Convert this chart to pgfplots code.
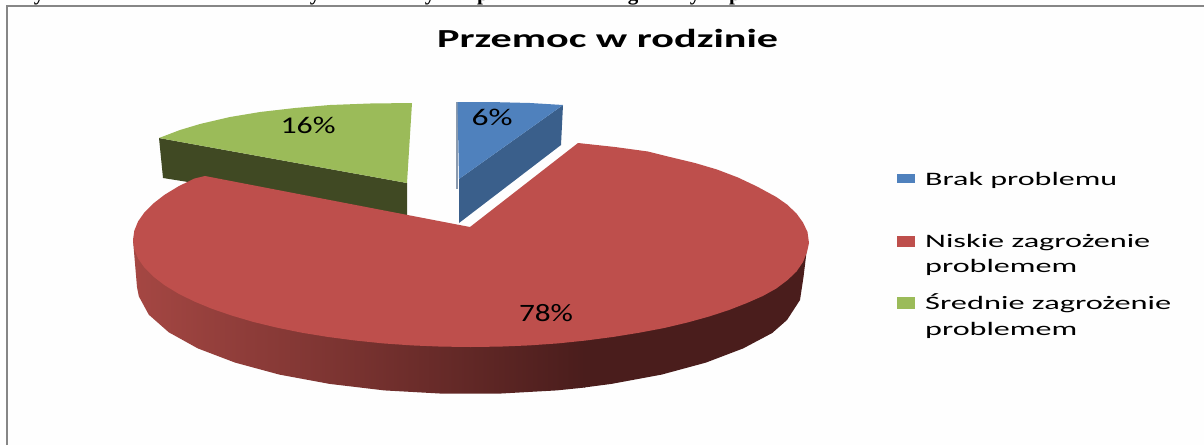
\documentclass[border=0pt]{standalone}
\usepackage{fontspec}
\setmainfont{Carlito}
\newfontfamily\serifbold{Liberation Serif}[BoldFont={Liberation Serif Bold}]
\usepackage{graphicx}
\usepackage{pgfplots}
\pgfplotsset{compat=1.18}
\definecolor{blueTop}{HTML}{4F81BD}
\definecolor{blueSide}{HTML}{3A5F8B}
\definecolor{blueEdge}{HTML}{8A9AAE}
\definecolor{redTop}{HTML}{BE4F4C}
\definecolor{redSideL}{HTML}{A54743}
\definecolor{redSideM}{HTML}{8A3836}
\definecolor{redSideR}{HTML}{4A1D1C}
\definecolor{greenTop}{HTML}{9BBB59}
\definecolor{greenSide}{HTML}{404923}
\definecolor{frame}{HTML}{868686}
\definecolor{paper}{HTML}{FEFEFE}
\newcommand{\lab}[2]{\resizebox{#1pt}{\height}{#2}}
\begin{document}
\begin{tikzpicture}
\begin{axis}[
    scale only axis,
    width=1204pt,
    height=445pt,
    xmin=0, xmax=1204,
    ymin=0, ymax=445,
    y dir=reverse,
    axis lines=none,
    clip=true,
]
% background, keeps the page full size
\addplot[draw=none, fill=paper] coordinates {(0,0) (1204,0) (1204,445) (0,445)};
% frame
\addplot[frame, line width=2pt] coordinates {(7,445) (7,6) (1204,6)};

% green slice
\addplot[draw=none, fill=greenSide] coordinates {(159,138) (163,178) (407,217) (407,183)};
\addplot[draw=none, fill=greenTop] coordinates {(159,138) (180,130) (200,124) (230,117) (260,112) (295,108) (330,105) (370,103.5) (412,103) (407,183)};

% blue slice
\addplot[blueEdge, line width=1.2pt] coordinates {(457,102) (457,189)};
\addplot[draw=none, fill=blueSide] coordinates {(563,105) (561,145) (459,223) (459,179)};
\addplot[draw=none, fill=blueTop] coordinates {(457.5,102) (490,102) (530,103) (563,105) (459,179)};

% red slice, side wall
\addplot[draw=none, left color=redSideL, middle color=redSideM, right color=redSideR] coordinates {
    (133,240) (137,287) (138.8,296.3) (148.8,314.7) (168.8,332.3) (197.8,348.4)
    (235.1,362.6) (279.4,374.6) (329.6,383.9) (384.3,390.4) (441.5,393.6) (499.5,393.6)
    (556.7,390.4) (585,387.5) (585,240)};
\addplot[draw=none, fill=redSideR] coordinates {
    (584,240) (584,387.5) (611.4,383.9) (661.6,374.6) (705.9,362.6) (743.2,348.4)
    (772.2,333) (787,320) (800,300) (803.5,277) (808,240)};

% red slice, top face
\addplot[draw=none, fill=redTop] coordinates {
    (470,227) (205,176) (194.1,178.6) (178.2,186.5) (164.7,194.7) (153.4,203.4) (144.5,212.3)
    (138.1,221.4) (134.3,230.7) (133,240) (134.3,249.3) (138.1,258.6) (144.5,267.7)
    (153.4,276.6) (164.7,285.3) (178.2,293.5) (194.1,301.4) (212,308.8) (231.9,315.6)
    (253.6,322) (276.8,327.6) (301.8,332.7) (327.7,336.9) (355.1,340.5) (383.1,343.4)
    (411.8,345.4) (441.1,346.6) (470.5,347) (499.9,346.6) (529.2,345.4) (557.9,343.4)
    (585.9,340.5) (613.3,336.9) (639.3,332.7) (664.2,328) (687.4,322.5) (709.1,316.5)
    (729,310) (746.9,303) (762.8,296) (776.3,288.5) (787.6,280) (796.5,271.5)
    (803,262) (807,252) (809,243) (807.5,232) (803,222.5) (796.5,213.5)
    (787,204.5) (776.3,197) (757,186.5) (738,177.5) (717,169.5) (695,163)
    (670,157) (648,151.5) (615,147) (578,143)};

% legend keys
\addplot[draw=none, fill=blueTop] coordinates {(897,174) (915,174) (915,183) (897,183)};
\addplot[draw=none, fill=redTop] coordinates {(897,236) (915,236) (915,247) (897,247)};
\addplot[draw=none, fill=greenTop] coordinates {(897,297) (915,297) (915,309) (897,309)};

% clipped line of text above the frame
\foreach \g/\px in {y/39, y/315, y/430, p/483, g/633, y/695, p/735} {
    \edef\temp{\noexpand\node[anchor=base, inner sep=0pt, font=\noexpand\fontsize{21}{21}\noexpand\serifbold\noexpand\bfseries]
        at (axis cs:\px,0.5) {\g};}
    \temp
}

% title
\node[anchor=base west, inner sep=0pt, font=\fontsize{26}{26}\selectfont\bfseries]
    at (axis cs:437,47) {\lab{341}{Przemoc w rodzinie}};

% data labels
\node[anchor=center, inner sep=0pt, font=\fontsize{24}{24}\selectfont] at (axis cs:492,117.5) {\lab{41}{6\%}};
\node[anchor=center, inner sep=0pt, font=\fontsize{24}{24}\selectfont] at (axis cs:308,125) {\lab{55}{16\%}};
\node[anchor=center, inner sep=0pt, font=\fontsize{25}{25}\selectfont] at (axis cs:546,313.5) {\lab{54}{78\%}};

% legend text
\node[anchor=base west, inner sep=0pt, font=\fontsize{19}{19}\selectfont] at (axis cs:925,185) {\lab{192}{Brak problemu}};
\node[anchor=base west, inner sep=0pt, font=\fontsize{19}{19}\selectfont] at (axis cs:925,247) {\lab{225}{Niskie zagrożenie}};
\node[anchor=base west, inner sep=0pt, font=\fontsize{19}{19}\selectfont] at (axis cs:925,272) {\lab{152}{problemem}};
\node[anchor=base west, inner sep=0pt, font=\fontsize{19}{19}\selectfont] at (axis cs:925,309) {\lab{246}{Średnie zagrożenie}};
\node[anchor=base west, inner sep=0pt, font=\fontsize{19}{19}\selectfont] at (axis cs:925,335) {\lab{152}{problemem}};
\end{axis}
\end{tikzpicture}
\end{document}
